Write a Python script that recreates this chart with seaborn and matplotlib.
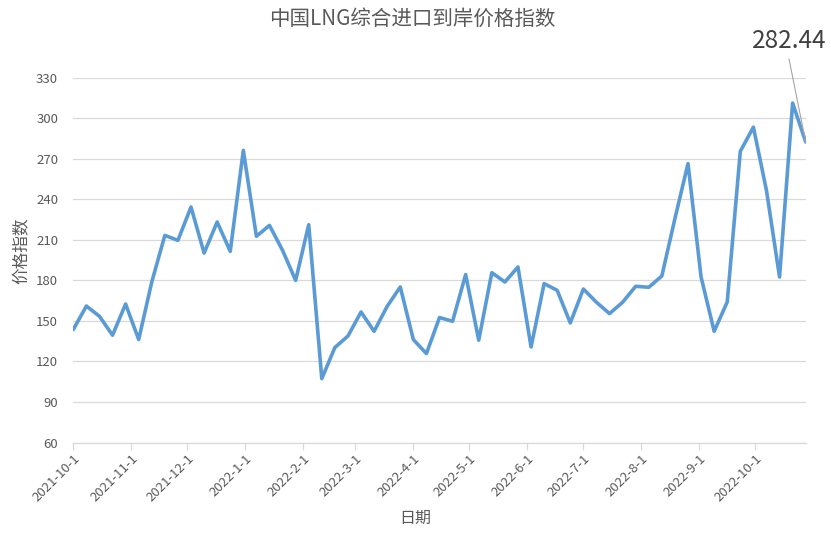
import matplotlib
matplotlib.use("Agg")
import matplotlib.pyplot as plt
import matplotlib.dates as mdates
import matplotlib.ticker as mticker
import seaborn as sns
import pandas as pd
import numpy as np

# ---- data ----
start_date = "2021-10-01"
n_points = 57
index_values = [
    143.6, 161.0, 153.4, 139.4, 162.5, 136.2, 178.8, 213.3, 209.6, 234.3,
    200.2, 223.2, 201.5, 276.2, 212.6, 220.7, 202.2, 180.0, 221.2, 107.3,
    130.3, 138.8, 156.6, 142.3, 160.8, 175.1, 136.2, 125.8, 152.5, 149.7,
    184.3, 135.7, 185.7, 178.8, 189.9, 130.7, 177.6, 172.6, 148.5, 173.6,
    163.8, 155.4, 163.8, 175.6, 174.9, 183.2, 225.7, 266.4, 182.5, 142.3,
    164.0, 275.5, 293.4, 246.6, 182.5, 311.2, 282.44,
]
y_ticks = [60, 90, 120, 150, 180, 210, 240, 270, 300, 330]
title = "中国LNG综合进口到岸价格指数"
x_label = "日期"
y_label = "价格指数"
last_label = "282.44"

dates = pd.date_range(start_date, periods=n_points, freq="7D")
df = pd.DataFrame({"日期": dates, "价格指数": index_values})

sns.set_theme(style="white")
plt.rcParams["font.family"] = ["Noto Sans CJK SC", "DejaVu Sans"]

fig = plt.figure(figsize=(8.31, 5.35), dpi=100)
ax = fig.add_axes([73.3 / 831, 1 - 442.5 / 535, (805.7 - 73.3) / 831, (442.5 - 77.7) / 535])

sns.lineplot(data=df, x="日期", y="价格指数", ax=ax, color="#5B9BD5", linewidth=2.6)

ax.set_ylim(60, 330)
ax.set_yticks(y_ticks)
ax.set_xlim(dates[0], dates[-1])
ax.xaxis.set_major_locator(mdates.MonthLocator())
ax.xaxis.set_major_formatter(mticker.FuncFormatter(
    lambda v, p: (lambda d: f"{d.year}-{d.month}-{d.day}")(mdates.num2date(v))))

ax.grid(axis="y", color="#D9D9D9", linewidth=0.9)
ax.set_axisbelow(True)
for s in ["left", "right", "top"]:
    ax.spines[s].set_visible(False)
ax.spines["bottom"].set_color("#D9D9D9")
ax.spines["bottom"].set_linewidth(0.9)

ax.tick_params(axis="x", which="major", length=5, width=0.9, color="#D9D9D9",
               labelsize=9.5, labelcolor="#595959", pad=2, bottom=True)
ax.tick_params(axis="y", length=0, labelsize=9.5, labelcolor="#595959", pad=11)
for lbl in ax.get_xticklabels():
    lbl.set_rotation(45)
    lbl.set_ha("right")
    lbl.set_rotation_mode("anchor")

ax.set_xlabel("")
ax.set_ylabel("")
fig.text(415 / 831, 1 - 518 / 535, x_label, ha="center", va="center", fontsize=11.5, color="#595959")
fig.text(22 / 831, 1 - 251 / 535, y_label, ha="center", va="center", rotation=90, fontsize=12, color="#595959")
fig.text(412 / 831, 1 - 19 / 535, title, ha="center", va="center", fontsize=14.8, color="#595959")

# annotation for last value
fig.text(789 / 831, 1 - 41 / 535, last_label, ha="center", va="center", fontsize=17.5, color="#404040")
ax.annotate("", xy=(dates[-1], index_values[-1]), xycoords="data",
            xytext=(789, 535 - 59), textcoords="figure pixels",
            arrowprops=dict(arrowstyle="-", color="#A6A6A6", lw=0.8, shrinkA=0, shrinkB=0),
            annotation_clip=False)

fig.savefig("out.png", dpi=100)
